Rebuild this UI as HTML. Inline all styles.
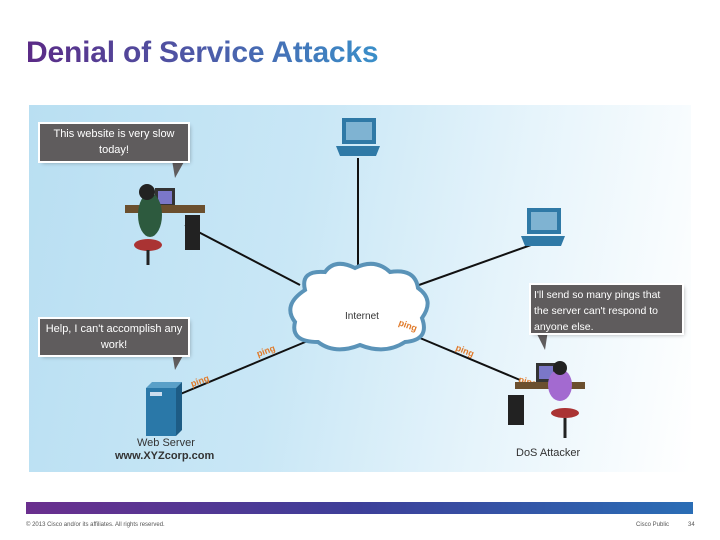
<!DOCTYPE html>
<html><head><meta charset="utf-8"><style>
body{margin:0;width:720px;height:540px;background:#fff;position:relative;overflow:hidden;font-family:"Liberation Sans",sans-serif}
.t{position:absolute;left:26px;top:36px;font-size:30px;font-weight:bold;letter-spacing:-0.2px;background:linear-gradient(90deg,#5b2a86,#4d5aa8 50%,#3a8fc9);-webkit-background-clip:text;color:transparent}
.panel{position:absolute;left:29px;top:105px;width:662px;height:367px;background:linear-gradient(100deg,#b9dff2 0%,#c9e7f6 40%,#e6f4fb 70%,#fff 100%)}
.bub{position:absolute;background:#5f5c5d;color:#fff;font-size:11px;text-align:center;line-height:16px;box-shadow:0 0 0 2px #fff,2px 2px 4px rgba(0,0,0,.3)}
.bar{position:absolute;left:26px;top:502px;width:667px;height:12px;background:linear-gradient(90deg,#6a2f8e,#3d3f99 50%,#2a6db5)}
.f{position:absolute;top:522px;font-size:6px;color:#555}
</style></head><body>
<div class="t">Denial of Service Attacks</div>
<div class="panel"></div>
<svg width="720" height="540" style="position:absolute;left:0;top:0">
<g stroke="#111" stroke-width="2">
<line x1="358" y1="158" x2="358" y2="275"/>
<line x1="185" y1="225" x2="300" y2="285"/>
<line x1="545" y1="240" x2="405" y2="290"/>
<line x1="178" y1="395" x2="310" y2="340"/>
<line x1="420" y1="338" x2="520" y2="380"/>
</g>
<path d="M305 290 Q300 270 325 272 Q335 258 355 268 Q375 258 390 272 Q415 268 418 288 Q435 300 422 318 Q430 340 405 342 Q385 355 360 345 Q335 355 318 342 Q290 342 295 322 Q282 305 305 290Z" fill="#fff" stroke="#5a93b8" stroke-width="4"/>
<text x="345" y="319" font-size="10" fill="#333" font-family="Liberation Sans">Internet</text>
<g fill="#e07a2a" font-size="9" font-weight="bold" font-family="Liberation Sans">
<text x="398" y="325" transform="rotate(20 398 325)">ping</text>
<text x="455" y="350" transform="rotate(22 455 350)">ping</text>
<text x="258" y="357" transform="rotate(-20 258 357)">ping</text>
<text x="192" y="387" transform="rotate(-20 192 387)">ping</text>
<text x="518" y="382" transform="rotate(15 518 382)">ping</text>
</g>
<rect x="342" y="118" width="34" height="26" fill="#2f79a6"/><rect x="346" y="122" width="26" height="18" fill="#7fb3d2"/>
<path d="M336 146 h44 l-4 10 h-36z" fill="#2f79a6"/>
<rect x="527" y="208" width="34" height="26" fill="#2f79a6"/><rect x="531" y="212" width="26" height="18" fill="#7fb3d2"/>
<path d="M521 236 h44 l-4 10 h-36z" fill="#2f79a6"/>
<rect x="155" y="188" width="20" height="20" fill="#333"/><rect x="158" y="191" width="14" height="13" fill="#7b77c8"/>
<rect x="125" y="205" width="80" height="8" fill="#6b4f2e"/>
<rect x="185" y="215" width="15" height="35" fill="#222"/>
<ellipse cx="150" cy="215" rx="12" ry="22" fill="#2d5a3e"/><circle cx="147" cy="192" r="8" fill="#222"/>
<ellipse cx="148" cy="245" rx="14" ry="6" fill="#a33"/><line x1="148" y1="250" x2="148" y2="265" stroke="#222" stroke-width="3"/>
<path d="M146 388 l6 -6 h30 l-6 6z" fill="#5aa0c8"/>
<rect x="146" y="388" width="30" height="48" fill="#2a78a8"/><path d="M176 388 l6 -6 v48 l-6 6z" fill="#1d5c85"/>
<rect x="150" y="392" width="12" height="4" fill="#cde"/>
<rect x="536" y="363" width="20" height="20" fill="#333"/><rect x="539" y="366" width="14" height="13" fill="#7b77c8"/>
<rect x="515" y="382" width="70" height="7" fill="#6b4f2e"/>
<rect x="508" y="395" width="16" height="30" fill="#222"/>
<ellipse cx="560" cy="385" rx="12" ry="16" fill="#a36ad0"/><circle cx="560" cy="368" r="7" fill="#222"/>
<ellipse cx="565" cy="413" rx="14" ry="5" fill="#a33"/><line x1="565" y1="418" x2="565" y2="438" stroke="#222" stroke-width="3"/>
<path d="M172 160 L185 160 L175 178Z" fill="#5f5c5d"/>
<path d="M172 352 L185 352 L175 370Z" fill="#5f5c5d"/>
<path d="M535 330 L548 330 L545 350Z" fill="#5f5c5d"/>
</svg>
<div class="bub" style="left:40px;top:124px;width:148px;height:35px;padding-top:2px">This website is very slow<br>today!</div>
<div class="bub" style="left:40px;top:319px;width:148px;height:34px;padding-top:2px">Help, I can't accomplish any<br>work!</div>
<div class="bub" style="left:531px;top:285px;width:148px;height:46px;text-align:left;padding:2px 0 0 3px;font-size:10.5px">I'll send so many pings that<br>the server can't respond to<br>anyone else.</div>
<div style="position:absolute;left:137px;top:437px;font-size:11px;color:#333">Web Server</div>
<div style="position:absolute;left:115px;top:450px;font-size:11px;font-weight:bold;color:#333">www.XYZcorp.com</div>
<div style="position:absolute;left:516px;top:447px;font-size:11px;color:#333">DoS Attacker</div>
<div class="bar"></div>
<div class="f" style="left:26px">© 2013 Cisco and/or its affiliates. All rights reserved.</div>
<div class="f" style="left:636px">Cisco Public</div>
<div class="f" style="left:688px">34</div>
</body></html>
